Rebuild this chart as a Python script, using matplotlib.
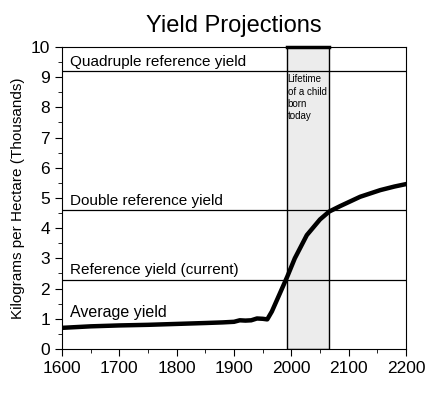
import numpy as np
from matplotlib import pyplot as plt
from matplotlib.ticker import MultipleLocator

plt.rcParams["font.family"] = ["Liberation Sans", "DejaVu Sans"]

# Average yield (thousands of kg per hectare)
years = [1600, 1650, 1700, 1750, 1800, 1850, 1880, 1900, 1910, 1920, 1930,
         1940, 1950, 1958, 1966, 1980, 1993, 2006, 2027, 2050, 2066, 2085,
         2120, 2155, 2180, 2200]
avg_yield = [0.70, 0.75, 0.78, 0.80, 0.83, 0.86, 0.88, 0.90, 0.95, 0.94, 0.95,
             1.01, 1.00, 0.98, 1.24, 1.84, 2.40, 3.00, 3.77, 4.29, 4.55, 4.73,
             5.04, 5.26, 5.38, 5.46]

# Reference levels
ref_levels = [2.3, 4.6, 9.2]
ref_labels = ["Reference yield (current)", "Double reference yield",
              "Quadruple reference yield"]

# Lifetime band
life_start, life_end = 1992, 2066

fig = plt.figure(figsize=(4.37, 3.95), dpi=100)
ax = fig.add_axes([0.142, 0.1165, 0.787, 0.7645])

ax.axvspan(life_start, life_end, facecolor="#ececec", edgecolor="black",
           linewidth=1, zorder=1)
ax.plot([life_start, life_end], [10, 10], color="black", linewidth=2.5,
        zorder=3, clip_on=False)
ax.text(life_start + 1.5, 9.1, "Lifetime\nof a child\nborn\ntoday", fontsize=7,
        va="top", ha="left", linespacing=1.3)

for level, label in zip(ref_levels, ref_labels):
    ax.axhline(level, color="black", linewidth=0.9, zorder=2)
    ax.text(1614, level + 0.08, label, fontsize=11, va="bottom", ha="left")

ax.plot(years, avg_yield, color="black", linewidth=3.2, zorder=4)
ax.text(1614, 0.97, "Average yield", fontsize=11.5, va="bottom", ha="left")

ax.set_xlim(1600, 2200)
ax.set_ylim(0, 10)
ax.xaxis.set_major_locator(MultipleLocator(100))
ax.xaxis.set_minor_locator(MultipleLocator(50))
ax.yaxis.set_major_locator(MultipleLocator(1))
ax.yaxis.set_minor_locator(MultipleLocator(0.5))
ax.tick_params(which="both", direction="out", labelsize=12.5)
ax.tick_params(which="major", length=5)
ax.tick_params(which="minor", length=3)
ax.set_ylabel("Kilograms per Hectare (Thousands)", fontsize=11)
ax.set_title("Yield Projections", fontsize=17, pad=11)

fig.savefig("out.png", dpi=100)
